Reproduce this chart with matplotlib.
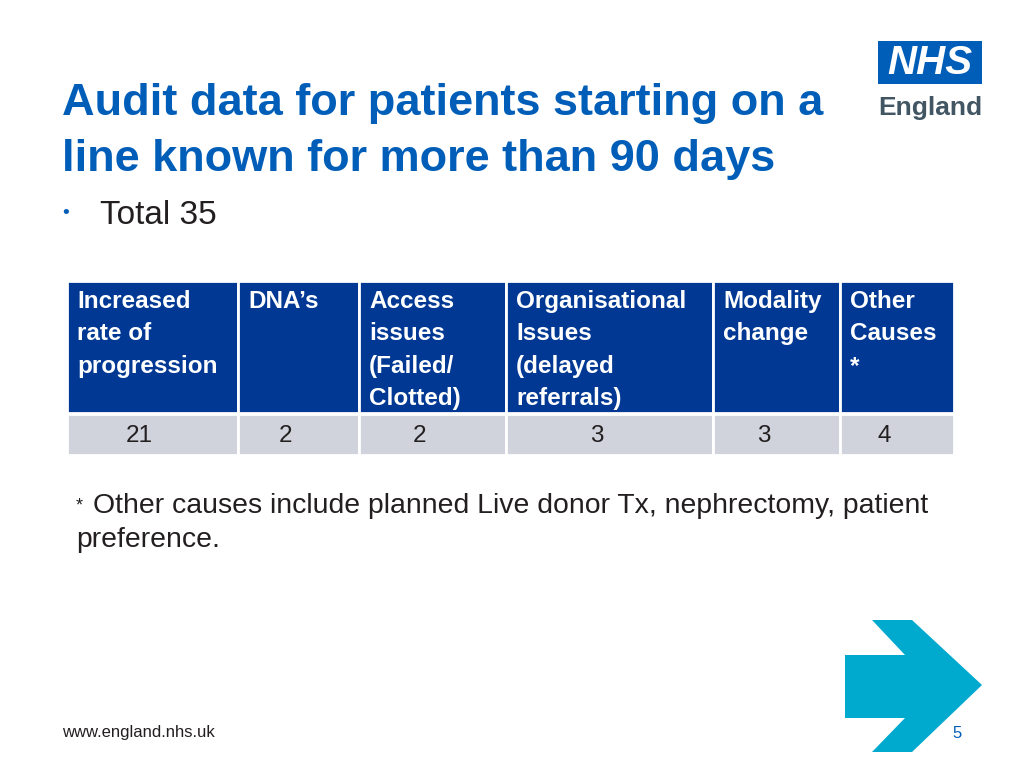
import matplotlib
matplotlib.use("Agg")
import matplotlib.pyplot as plt
from matplotlib.patches import Rectangle, Polygon

plt.rcParams["font.family"] = "Liberation Sans"

categories = ["Increased\nrate of\nprogression", "DNA’s", "Access\nissues\n(Failed/\nClotted)",
              "Organisational\nIssues\n(delayed\nreferrals)", "Modality\nchange", "Other\nCauses\n*"]
values = [21, 2, 2, 3, 3, 4]
col_edges = [67, 238, 359, 506, 713, 840, 954]

BLUE = "#005EB8"
DARK = "#003893"
GREY = "#D1D3DC"
CYAN = "#00A9CE"

fig = plt.figure(figsize=(10.24, 7.68), dpi=100)
ax = fig.add_axes([0, 0, 1, 1])
ax.set_xlim(0, 1024)
ax.set_ylim(768, 0)
ax.axis("off")

ax.text(62, 104, "Audit data for patients starting on a", fontsize=32.5, fontweight="bold", color=BLUE, va="center")
ax.text(62, 159, "line known for more than 90 days", fontsize=32.5, fontweight="bold", color=BLUE, va="center")
ax.text(62, 214, "•", fontsize=14, color=BLUE, va="center")
ax.text(100, 215, "Total 35", fontsize=24, color="#231F20", va="center")

# table
for i, (cat, v) in enumerate(zip(categories, values)):
    x0, x1 = col_edges[i], col_edges[i + 1]
    ax.add_patch(Rectangle((x0, 281), x1 - x0, 132, facecolor=DARK, edgecolor="white", lw=2))
    ax.add_patch(Rectangle((x0, 414), x1 - x0, 41, facecolor=GREY, edgecolor="white", lw=2))
    ax.text(x0 + 10, 290, cat, fontsize=17.5, fontweight="bold", color="white", va="top", linespacing=1.52)
    ax.text((x0 + x1) / 2 - 13, 436, str(v), fontsize=17.5, color="#231F20", va="center", ha="center")

ax.text(76, 506, "*", fontsize=13, color="#231F20", va="center")
ax.text(93, 506, "Other causes include planned Live donor Tx, nephrectomy, patient", fontsize=20.4, color="#231F20", va="center")
ax.text(76, 540, "preference.", fontsize=20.4, color="#231F20", va="center")

# NHS logo
ax.add_patch(Rectangle((878, 41), 104, 43, facecolor=BLUE, edgecolor="none"))
ax.text(930, 63, "NHS", fontsize=29, fontweight="bold", fontstyle="italic", color="white", ha="center", va="center")
ax.text(930, 108, "England", fontsize=19, fontweight="bold", color="#425563", ha="center", va="center")

# arrow
ax.add_patch(Polygon([(845, 655), (905, 655), (872, 620), (912, 620), (982, 685),
                      (912, 752), (872, 752), (905, 718), (845, 718)], closed=True, facecolor=CYAN, edgecolor="none"))

ax.text(62, 733, "www.england.nhs.uk", fontsize=12, color="#231F20", va="center")
ax.text(962, 733, "5", fontsize=12, color=BLUE, va="center", ha="right")

fig.savefig("out.png", dpi=100)
